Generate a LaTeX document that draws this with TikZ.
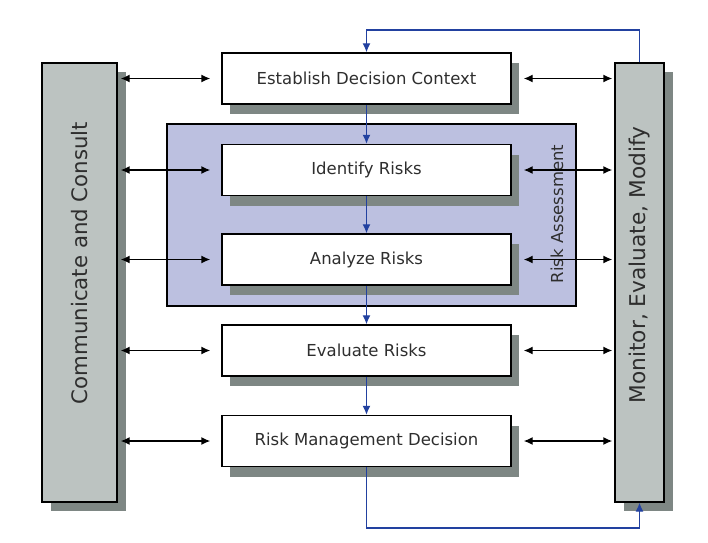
\documentclass[tikz,border=0pt]{standalone}
\usepackage{fontspec}
\setmainfont{DejaVu Sans}
\usetikzlibrary{arrows.meta,positioning,shadows}

\definecolor{bargray}{HTML}{BCC3C1}
\definecolor{shadegray}{HTML}{7E8784}
\definecolor{assessfill}{HTML}{BCC0E0}
\definecolor{flowblue}{HTML}{2241A0}
\definecolor{textgray}{HTML}{2E2E2E}

\tikzset{
  stepbox/.style={draw, line width=1.4pt, fill=white, text=textgray,
    minimum width=289pt, minimum height=51pt, inner sep=0pt,
    font=\fontsize{16.5}{18}\selectfont,
    drop shadow={shadow xshift=8pt, shadow yshift=-10pt, fill=shadegray, opacity=1}},
  sidebar/.style={draw, line width=1.4pt, fill=bargray, text=textgray, inner sep=0pt,
    minimum height=439pt,
    drop shadow={shadow xshift=9pt, shadow yshift=-9pt, fill=shadegray, opacity=1}},
  talk/.style={<->, >={Latex[length=9pt,width=8pt]}, line width=1.4pt, black},
  flow/.style={->, >={Latex[length=9pt,width=8pt]}, line width=1.3pt, flowblue}
}

\begin{document}
\begin{tikzpicture}[x=1pt,y=-1pt]
  \useasboundingbox (0,0) rectangle (708,542);

  % risk assessment frame
  \node[draw, line width=1.4pt, fill=assessfill, minimum width=409pt, minimum height=182pt,
    inner sep=0pt] (assess) at (371.5,215) {};
  \node[rotate=90, text=textgray, font=\fontsize{16.5}{18}\selectfont]
    (assesslabel) at (557,214) {Risk Assessment};

  % side bars
  \node[sidebar, minimum width=75pt] (comm) at (79.5,282.5) {};
  \node[rotate=90, text=textgray, font=\fontsize{21.3}{24}\selectfont]
    (commlabel) at (79.5,263) {Communicate and Consult};
  \node[sidebar, minimum width=49pt] (monitor) at (639.5,282.5) {};
  \node[rotate=90, text=textgray, font=\fontsize{21.7}{24}\selectfont]
    (monitorlabel) at (639.5,265) {Monitor, Evaluate, Modify};

  % process steps
  \node[stepbox] (context)  at (366.5,78.5) {Establish Decision Context};
  \node[stepbox] (identify) at (366.5,170)  {Identify Risks};
  \node[stepbox] (analyze)  at (366.5,259.5) {Analyze Risks};
  \node[stepbox] (evaluate) at (366.5,350.5) {Evaluate Risks};
  \node[stepbox] (decision) at (366.5,441)  {Risk Management Decision};

  % main flow
  \draw[flow] (context)  -- (identify);
  \draw[flow] (identify) -- (analyze);
  \draw[flow] (analyze)  -- (evaluate);
  \draw[flow] (evaluate) -- (decision);

  % feedback loop
  \coordinate (loopbot) at (0,528);
  \coordinate (looptop) at (0,30);
  \draw[flow] (decision.south) -- (decision.south |- loopbot)
    -- (monitor.south |- loopbot) -- (monitor.south);
  \draw[flow] (monitor.north) -- (monitor.north |- looptop)
    -- (context.north |- looptop) -- (context.north);

  % communication links
  \foreach \s in {context,identify,analyze,evaluate,decision}{
    \draw[talk, shorten <=3pt, shorten >=11pt] (comm.east |- \s) -- (\s.west);
    \draw[talk, shorten <=12pt, shorten >=2pt] (\s.east) -- (monitor.west |- \s);
  }
\end{tikzpicture}
\end{document}
